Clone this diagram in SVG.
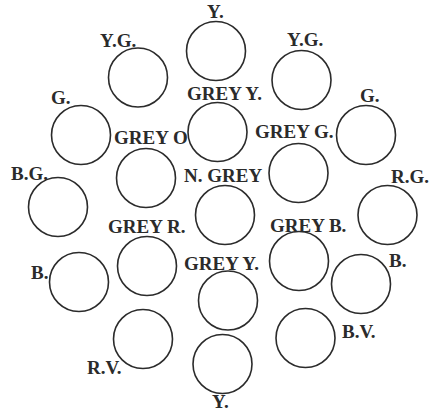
<svg xmlns="http://www.w3.org/2000/svg" width="438" height="413" viewBox="0 0 438 413">
  <style>
    .ring { fill: none; stroke: #2b2b2b; stroke-width: 1.6; }
    .lbl { font-family: "Liberation Serif", "DejaVu Serif", serif; font-weight: bold; font-size: 19px; fill: #2b2b2b; }
  </style>
  <rect width="438" height="413" fill="#ffffff"/>

  <!-- cable cores: each ring with its colour code -->
  <g id="core-y-top"><circle class="ring" cx="216" cy="51" r="29.5"/><text class="lbl" x="207" y="18">Y.</text></g>
  <g id="core-yg-left"><circle class="ring" cx="138" cy="77.5" r="29.5"/><text class="lbl" x="100" y="47">Y.G.</text></g>
  <g id="core-yg-right"><circle class="ring" cx="301.5" cy="80" r="29.5"/><text class="lbl" x="287" y="46">Y.G.</text></g>
  <g id="core-g-left"><circle class="ring" cx="81" cy="135" r="29.5"/><text class="lbl" x="51" y="104">G.</text></g>
  <g id="core-grey-y-top"><circle class="ring" cx="217.5" cy="132" r="29.5"/><text class="lbl" x="187" y="100">GREY Y.</text></g>
  <g id="core-g-right"><circle class="ring" cx="366" cy="135" r="29.5"/><text class="lbl" x="360" y="102">G.</text></g>
  <g id="core-grey-o"><circle class="ring" cx="146" cy="178" r="29.5"/><text class="lbl" x="114" y="144">GREY O</text></g>
  <g id="core-grey-g"><circle class="ring" cx="298.5" cy="173" r="29.5"/><text class="lbl" x="255" y="138">GREY G.</text></g>
  <g id="core-bg"><circle class="ring" cx="58" cy="207" r="29.5"/><text class="lbl" x="11" y="180">B.G.</text></g>
  <g id="core-n-grey"><circle class="ring" cx="225" cy="215" r="29.5"/><text class="lbl" x="184" y="182">N. GREY</text></g>
  <g id="core-rg"><circle class="ring" cx="387.5" cy="215" r="29.5"/><text class="lbl" x="391" y="183">R.G.</text></g>
  <g id="core-grey-r"><circle class="ring" cx="147" cy="266" r="29.5"/><text class="lbl" x="108" y="233">GREY R.</text></g>
  <g id="core-grey-b"><circle class="ring" cx="299" cy="261" r="29.5"/><text class="lbl" x="270" y="232">GREY B.</text></g>
  <g id="core-b-left"><circle class="ring" cx="79" cy="282" r="29.5"/><text class="lbl" x="31" y="279">B.</text></g>
  <g id="core-b-right"><circle class="ring" cx="361" cy="284" r="29.5"/><text class="lbl" x="389" y="267">B.</text></g>
  <g id="core-grey-y-bottom"><circle class="ring" cx="228" cy="300.5" r="29.5"/><text class="lbl" x="184" y="270">GREY Y.</text></g>
  <g id="core-rv"><circle class="ring" cx="143" cy="339" r="29.5"/><text class="lbl" x="87" y="374">R.V.</text></g>
  <g id="core-bv"><circle class="ring" cx="305.5" cy="338" r="29.5"/><text class="lbl" x="342" y="338">B.V.</text></g>
  <g id="core-y-bottom"><circle class="ring" cx="222.5" cy="364" r="29.5"/><text class="lbl" x="212" y="408">Y.</text></g>

  <g id="connectors"></g>
</svg>
